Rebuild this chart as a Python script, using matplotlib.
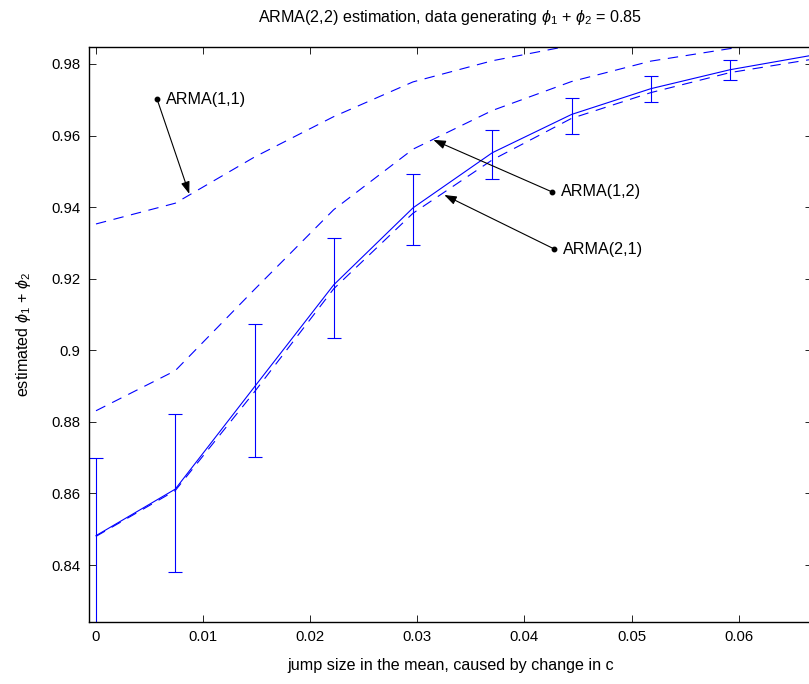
import matplotlib
matplotlib.use("Agg")
import matplotlib.pyplot as plt
import numpy as np

plt.rcParams['font.family'] = ['Liberation Sans', 'DejaVu Sans']
plt.rcParams['mathtext.fontset'] = 'custom'
plt.rcParams['mathtext.rm'] = 'Liberation Sans'
plt.rcParams['mathtext.it'] = 'Liberation Sans:italic'
plt.rcParams['mathtext.fallback'] = 'cm'
plt.rcParams['lines.scale_dashes'] = False

# ---- data ----
jump = [0.0, 0.0074, 0.0148, 0.0222, 0.0296, 0.0370, 0.0444, 0.0518, 0.0592, 0.0666]
arma22 = [0.8482, 0.8612, 0.8898, 0.9183, 0.9398, 0.9552, 0.9659, 0.9731, 0.9784, 0.9823]
ci_low = [0.8230, 0.8380, 0.8701, 0.9035, 0.9295, 0.9480, 0.9605, 0.9693, 0.9754]
ci_high = [0.8698, 0.8821, 0.9074, 0.9313, 0.9492, 0.9616, 0.9704, 0.9767, 0.9811]
arma11 = [0.9353, 0.9411, 0.9540, 0.9653, 0.9750, 0.9809, 0.9852, 0.9882, 0.9903, 0.9918]
arma12 = [0.8831, 0.8943, 0.9170, 0.9393, 0.9562, 0.9670, 0.9751, 0.9808, 0.9843, 0.9866]
arma21 = [0.8480, 0.8608, 0.8884, 0.9172, 0.9383, 0.9532, 0.9648, 0.9720, 0.9776, 0.9812]

x_ticks = [0, 0.01, 0.02, 0.03, 0.04, 0.05, 0.06]
y_ticks = [0.84, 0.86, 0.88, 0.90, 0.92, 0.94, 0.96, 0.98]

# annotation anchors: (label, dot x, dot y, arrow tip x, arrow tip y)
ann_labels = ['ARMA(1,1)', 'ARMA(1,2)', 'ARMA(2,1)']
ann_dot_x = [0.0057, 0.04255, 0.04279]
ann_dot_y = [0.9702, 0.9443, 0.9283]
ann_tip_x = [0.00871, 0.0315, 0.03252]
ann_tip_y = [0.9437, 0.9588, 0.9434]

W, H = 809, 684
fig = plt.figure(figsize=(W / 100, H / 100), dpi=100)
left, right, top, bottom = 88.5, 812, 47, 622
ax = fig.add_axes([left / W, 1 - bottom / H, (right - left) / W, (bottom - top) / H])

blue = (0, 0, 1)
dash = (0, (7.5, 5.5))
lw = 0.8
label_fs = 11.6
tick_fs = 10.7

x = np.array(jump)
ax.plot(x, arma11, color=blue, lw=lw, ls=dash)
ax.plot(x, arma12, color=blue, lw=lw, ls=dash)
ax.plot(x, arma21, color=blue, lw=lw, ls=dash)
ax.plot(x, arma22, color=blue, lw=lw)
n = len(ci_low)
mean = np.array(arma22[:n])
yerr = np.vstack([mean - np.array(ci_low), np.array(ci_high) - mean])
ax.errorbar(x[:n], mean, yerr=yerr, fmt='none', ecolor=blue, elinewidth=lw,
            capsize=5, capthick=lw)

for lab, dx, dy, tx, ty in zip(ann_labels, ann_dot_x, ann_dot_y, ann_tip_x, ann_tip_y):
    ax.annotate('', xy=(tx, ty), xytext=(dx, dy),
                arrowprops=dict(arrowstyle='-|>,head_length=0.7,head_width=0.25',
                                color='k', lw=0.8, shrinkA=0, shrinkB=0),
                fontsize=10.5)
    ax.plot([dx], [dy], 'o', color='k', ms=3.2)
    ax.annotate(lab, xy=(dx, dy), xytext=(6.5, 0), textcoords='offset points',
                va='center', ha='left', fontsize=label_fs)

ax.set_xlim((left - 96) / 10710, (right - 96) / 10710)
ax.set_ylim(0.84 - (bottom - 565) / 3578.6, 0.98 + (64 - top) / 3578.6)
ax.set_xticks(x_ticks)
ax.set_xticklabels(['%g' % v for v in x_ticks])
ax.set_yticks(y_ticks)
ax.set_yticklabels(['%g' % v for v in y_ticks])
ax.tick_params(direction='in', length=5, width=0.6, labelsize=tick_fs, top=True, right=True, pad=6)
for s in ax.spines.values():
    s.set_linewidth(1.0)

ax.set_title(r'ARMA(2,2) estimation, data generating $\phi_1$ + $\phi_2$ = 0.85',
             fontsize=label_fs, pad=18)
ax.set_xlabel('jump size in the mean, caused by change in c', fontsize=label_fs, labelpad=10)
ax.set_ylabel(r'estimated $\phi_1$ + $\phi_2$', fontsize=label_fs, labelpad=13)

fig.savefig('out.png', dpi=100)
